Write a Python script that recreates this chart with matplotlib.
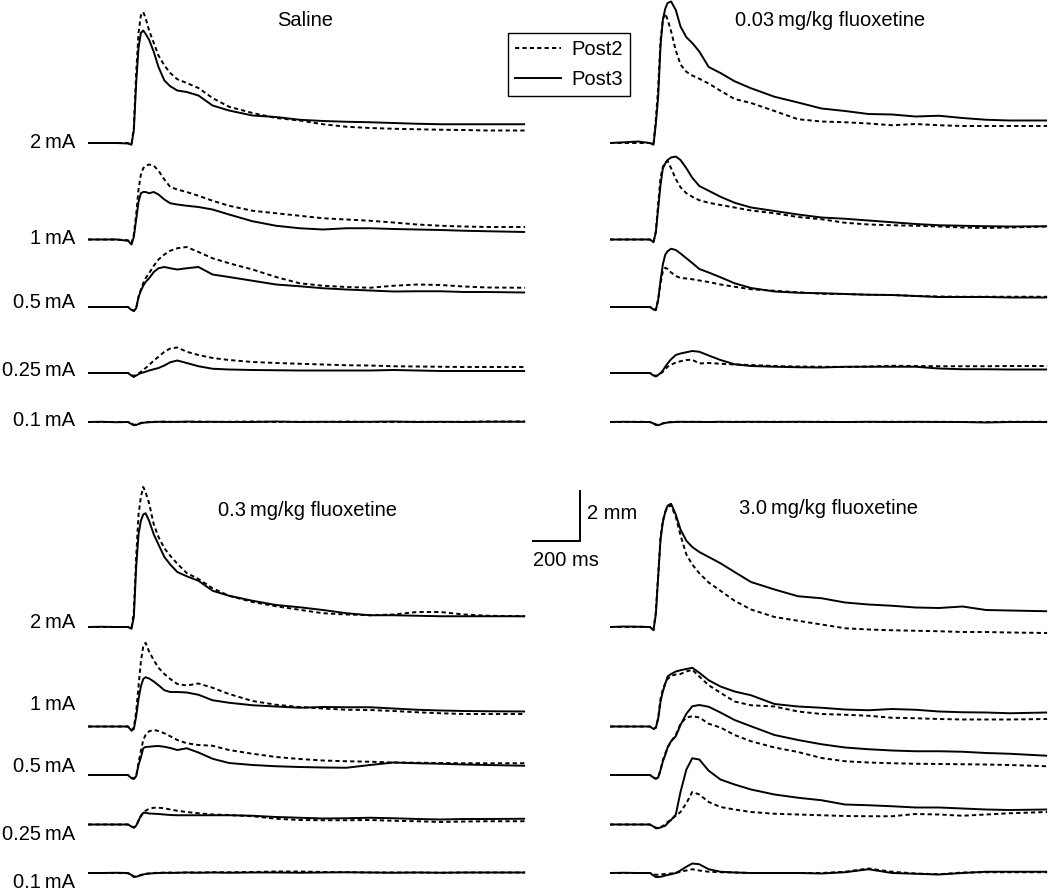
import numpy as np
import matplotlib.pyplot as plt
from matplotlib.lines import Line2D

# time after trace start (ms), shared by every trace
t_ms = [0, 60, 120, 170, 185, 195, 205, 215, 225, 235, 245, 260, 280, 300, 325, 350, 380,
        420, 470, 530, 600, 700, 800, 900, 1000, 1100, 1200, 1300, 1400, 1500, 1600, 1700, 1860]

intensities = ['2\u2009mA', '1\u2009mA', '0.5\u2009mA', '0.25\u2009mA', '0.1\u2009mA']
panel_titles = ['Saline', '0.03\u2009mg/kg fluoxetine', '0.3\u2009mg/kg fluoxetine', '3.0\u2009mg/kg fluoxetine']

# response amplitude (mm) -- Saline
sal_2_p2 = [0, 0, 0, 0, -0.05, 0.6, 2.8, 4.4, 5.1, 5.24, 5.0, 4.5, 4.0, 3.5, 3.1, 2.8, 2.55, 2.4, 2.2, 1.8, 1.45, 1.2, 1.0, 0.9, 0.75, 0.65, 0.6, 0.57, 0.55, 0.53, 0.52, 0.5, 0.5]
sal_2_p3 = [0, 0, 0, -0.02, -0.07, 0.5, 2.4, 3.8, 4.4, 4.5, 4.37, 4.13, 3.64, 3.04, 2.5, 2.27, 2.1, 2.04, 1.9, 1.5, 1.3, 1.1, 1.04, 0.93, 0.88, 0.85, 0.83, 0.8, 0.77, 0.75, 0.75, 0.75, 0.75]
sal_1_p2 = [0, 0, 0, -0.03, -0.15, 0.2, 1.0, 2.0, 2.6, 2.85, 2.95, 3.0, 2.95, 2.75, 2.4, 2.1, 2.0, 1.9, 1.75, 1.55, 1.35, 1.15, 1.05, 0.95, 0.85, 0.8, 0.75, 0.68, 0.6, 0.55, 0.52, 0.5, 0.5]
sal_1_p3 = [0, 0, 0, -0.05, -0.2, 0.1, 0.8, 1.5, 1.85, 1.9, 1.9, 1.85, 1.9, 1.8, 1.6, 1.45, 1.4, 1.35, 1.3, 1.2, 1.0, 0.73, 0.55, 0.45, 0.4, 0.45, 0.45, 0.42, 0.4, 0.38, 0.35, 0.33, 0.3]
sal_05_p2 = [0, 0, 0, 0, -0.1, -0.15, -0.05, 0.4, 0.7, 0.95, 1.15, 1.35, 1.65, 1.9, 2.1, 2.25, 2.35, 2.4, 2.2, 1.95, 1.75, 1.5, 1.2, 0.95, 0.85, 0.8, 0.77, 0.85, 0.9, 0.88, 0.82, 0.78, 0.77]
sal_05_p3 = [0, 0, 0, 0, -0.12, -0.16, -0.05, 0.4, 0.65, 0.85, 1.0, 1.15, 1.4, 1.55, 1.6, 1.55, 1.5, 1.55, 1.6, 1.3, 1.2, 1.05, 0.9, 0.83, 0.75, 0.7, 0.66, 0.62, 0.63, 0.63, 0.6, 0.6, 0.58]
sal_025_p2 = [0, 0, 0, 0, -0.08, -0.12, -0.06, -0.02, 0.05, 0.12, 0.2, 0.32, 0.5, 0.65, 0.85, 0.98, 1.02, 0.85, 0.72, 0.6, 0.52, 0.44, 0.4, 0.37, 0.34, 0.31, 0.3, 0.27, 0.26, 0.25, 0.24, 0.24, 0.24]
sal_025_p3 = [0, 0, 0, 0, -0.1, -0.16, -0.1, -0.05, 0.0, 0.02, 0.05, 0.1, 0.15, 0.2, 0.3, 0.43, 0.5, 0.4, 0.27, 0.17, 0.14, 0.12, 0.11, 0.1, 0.1, 0.1, 0.1, 0.12, 0.1, 0.08, 0.08, 0.08, 0.08]
sal_01_p2 = [0, 0, 0, 0, -0.06, -0.11, -0.1, -0.07, -0.04, -0.02, -0.01, 0, 0.01, 0, 0.02, 0, 0.01, 0, 0.02, 0, 0.01, 0.02, 0, 0.01, 0, 0.02, 0, 0, 0.01, 0, 0.01, 0.02, 0.02]
sal_01_p3 = [0, 0.01, -0.01, 0, -0.08, -0.13, -0.12, -0.08, -0.05, -0.03, -0.02, -0.01, 0, 0.01, 0, 0.01, 0, 0.02, 0, 0.01, 0, 0, 0.02, 0, 0.01, 0, 0.01, 0.02, 0, 0.01, 0, 0.01, 0.01]

# 0.03 mg/kg fluoxetine
f003_2_p2 = [0, 0, 0, 0, -0.05, 0.95, 2.2, 4.1, 4.94, 5.18, 4.94, 4.47, 3.7, 3.14, 2.85, 2.7, 2.57, 2.38, 2.09, 1.76, 1.6, 1.28, 0.95, 0.86, 0.83, 0.78, 0.71, 0.76, 0.71, 0.68, 0.68, 0.68, 0.68]
f003_2_p3 = [0, 0.03, 0.06, 0, -0.07, 0.76, 1.85, 3.9, 4.94, 5.37, 5.6, 5.66, 5.32, 4.66, 4.23, 4.0, 3.66, 3.04, 2.8, 2.47, 2.19, 1.85, 1.62, 1.38, 1.28, 1.16, 1.14, 1.06, 1.09, 1.0, 0.93, 0.9, 0.9]
f003_1_p2 = [0, 0, 0, 0, -0.1, 0.33, 1.43, 2.47, 2.9, 3.09, 3.14, 2.85, 2.42, 2.09, 1.85, 1.71, 1.57, 1.47, 1.38, 1.28, 1.16, 1.05, 0.9, 0.81, 0.67, 0.6, 0.57, 0.55, 0.52, 0.48, 0.46, 0.48, 0.52]
f003_1_p3 = [0, 0, 0, 0, -0.11, 0.28, 1.24, 2.19, 2.85, 3.04, 3.18, 3.28, 3.32, 3.18, 2.85, 2.47, 2.14, 1.95, 1.71, 1.47, 1.28, 1.14, 1.0, 0.88, 0.83, 0.76, 0.69, 0.62, 0.57, 0.55, 0.53, 0.52, 0.53]
f003_05_p2 = [0, 0, 0, 0, -0.08, -0.11, 0.29, 0.95, 1.43, 1.57, 1.52, 1.38, 1.24, 1.16, 1.14, 1.11, 1.06, 1.0, 0.9, 0.81, 0.71, 0.65, 0.59, 0.53, 0.52, 0.49, 0.48, 0.44, 0.42, 0.41, 0.41, 0.41, 0.41]
f003_05_p3 = [0, 0, 0, 0, -0.1, -0.13, 0.29, 1.05, 1.71, 2.09, 2.23, 2.33, 2.28, 2.14, 1.95, 1.76, 1.52, 1.38, 1.19, 0.95, 0.76, 0.62, 0.57, 0.55, 0.52, 0.49, 0.48, 0.44, 0.4, 0.4, 0.4, 0.38, 0.38]
f003_025_p2 = [0, 0, 0, 0, -0.08, -0.12, -0.08, -0.02, 0.05, 0.15, 0.25, 0.33, 0.42, 0.47, 0.52, 0.53, 0.38, 0.4, 0.37, 0.34, 0.32, 0.28, 0.26, 0.25, 0.24, 0.26, 0.29, 0.28, 0.27, 0.27, 0.27, 0.28, 0.28]
f003_025_p3 = [0, 0, 0, 0, -0.1, -0.14, -0.08, 0.0, 0.1, 0.25, 0.38, 0.55, 0.72, 0.78, 0.83, 0.88, 0.85, 0.7, 0.52, 0.35, 0.28, 0.25, 0.23, 0.22, 0.25, 0.25, 0.25, 0.25, 0.18, 0.15, 0.15, 0.14, 0.14]
f003_01_p2 = [0, 0, 0.01, 0, -0.05, -0.1, -0.11, -0.09, -0.05, -0.03, -0.01, 0, 0.01, 0, 0.01, 0, 0.01, 0, 0, 0.01, 0, 0.01, 0, 0.01, 0, 0, 0.01, 0, 0.01, 0, 0, 0.01, 0.01]
f003_01_p3 = [0, 0.01, 0, 0, -0.06, -0.12, -0.13, -0.1, -0.06, -0.04, -0.02, -0.01, 0, 0.01, 0, 0.01, 0, 0, 0.01, 0, 0.01, 0, 0.01, 0, 0, 0.01, 0, 0.01, 0, 0, -0.02, 0, 0]

# 0.3 mg/kg fluoxetine
f03_2_p2 = [0, 0, 0, 0, -0.05, 0.6, 2.8, 4.5, 5.2, 5.6, 5.4, 4.95, 4.1, 3.6, 3.15, 2.85, 2.53, 2.16, 1.92, 1.55, 1.25, 1.0, 0.83, 0.69, 0.55, 0.5, 0.47, 0.5, 0.6, 0.6, 0.5, 0.45, 0.43]
f03_2_p3 = [0, 0.01, 0, 0, -0.07, 0.4, 2.4, 3.7, 4.25, 4.5, 4.55, 4.25, 3.7, 3.3, 2.8, 2.5, 2.2, 2.03, 1.85, 1.45, 1.25, 1.05, 0.88, 0.79, 0.68, 0.55, 0.47, 0.47, 0.45, 0.43, 0.43, 0.43, 0.43]
f03_1_p2 = [0, 0, 0, 0, -0.14, -0.05, 0.6, 1.6, 2.6, 3.2, 3.35, 3.0, 2.65, 2.35, 2.1, 1.9, 1.7, 1.64, 1.72, 1.55, 1.3, 1.02, 0.87, 0.78, 0.72, 0.67, 0.66, 0.62, 0.57, 0.53, 0.5, 0.5, 0.5]
f03_1_p3 = [0, 0, 0, 0, -0.17, -0.1, 0.4, 1.1, 1.6, 1.9, 1.97, 1.92, 1.8, 1.65, 1.45, 1.38, 1.38, 1.36, 1.27, 1.05, 0.95, 0.85, 0.8, 0.75, 0.78, 0.77, 0.77, 0.72, 0.67, 0.64, 0.62, 0.61, 0.6]
f03_05_p2 = [0, 0, 0, 0, -0.1, -0.14, -0.05, 0.5, 0.95, 1.4, 1.6, 1.75, 1.8, 1.76, 1.67, 1.55, 1.4, 1.27, 1.2, 1.17, 1.0, 0.85, 0.72, 0.64, 0.58, 0.55, 0.53, 0.5, 0.49, 0.48, 0.47, 0.47, 0.47]
f03_05_p3 = [0, 0, 0, 0, -0.13, -0.16, -0.05, 0.4, 0.7, 1.07, 1.12, 1.13, 1.15, 1.16, 1.13, 1.08, 1.0, 1.07, 0.9, 0.65, 0.48, 0.4, 0.35, 0.32, 0.3, 0.29, 0.4, 0.5, 0.47, 0.45, 0.42, 0.4, 0.37]
f03_025_p2 = [0, 0, 0, 0, -0.07, -0.12, -0.05, 0.15, 0.33, 0.47, 0.55, 0.63, 0.67, 0.67, 0.65, 0.6, 0.55, 0.5, 0.45, 0.4, 0.38, 0.33, 0.23, 0.18, 0.17, 0.17, 0.18, 0.15, 0.13, 0.1, 0.12, 0.13, 0.13]
f03_025_p3 = [0, 0, 0, 0, -0.08, -0.13, -0.05, 0.15, 0.35, 0.47, 0.47, 0.44, 0.43, 0.42, 0.4, 0.38, 0.37, 0.37, 0.37, 0.37, 0.37, 0.35, 0.3, 0.27, 0.24, 0.25, 0.27, 0.25, 0.22, 0.2, 0.22, 0.22, 0.23]
f03_01_p2 = [0, 0, 0, -0.01, -0.07, -0.14, -0.14, -0.11, -0.08, -0.05, -0.03, -0.02, 0, 0.01, 0.01, 0.02, 0.01, 0.02, 0.02, 0.03, 0.03, 0.04, 0.06, 0.06, 0.04, 0.03, 0.02, 0.02, 0.02, 0.01, 0.02, 0.02, 0.02]
f03_01_p3 = [0, 0, 0.01, 0, -0.08, -0.16, -0.15, -0.12, -0.09, -0.06, -0.04, -0.02, -0.01, 0, 0.01, 0, 0.01, 0.02, 0.01, 0.02, 0.01, 0.02, 0.02, 0.01, 0.02, 0.03, 0.02, 0.01, 0.02, 0.01, 0.02, 0.02, 0.02]

# 3.0 mg/kg fluoxetine
f30_2_p2 = [0, 0, 0.01, 0, -0.12, 0.6, 2.1, 3.6, 4.25, 4.6, 4.8, 4.87, 4.4, 3.67, 2.9, 2.5, 2.15, 1.78, 1.45, 1.05, 0.7, 0.4, 0.25, 0.1, -0.05, -0.1, -0.13, -0.15, -0.17, -0.2, -0.2, -0.22, -0.24]
f30_2_p3 = [0, 0.02, 0.01, 0, -0.13, 0.5, 2.0, 3.5, 4.2, 4.6, 4.85, 4.93, 4.5, 3.9, 3.45, 3.2, 3.0, 2.8, 2.55, 2.2, 1.8, 1.5, 1.23, 1.15, 0.98, 0.9, 0.85, 0.78, 0.76, 0.82, 0.68, 0.66, 0.63]
f30_1_p2 = [0, 0, 0, 0, -0.1, -0.05, 0.35, 1.1, 1.5, 1.73, 1.9, 2.03, 2.08, 2.1, 2.2, 2.27, 2.0, 1.65, 1.35, 1.0, 0.85, 0.8, 0.6, 0.5, 0.47, 0.43, 0.35, 0.33, 0.3, 0.28, 0.28, 0.28, 0.3]
f30_1_p3 = [0, 0, 0, 0, -0.1, -0.05, 0.3, 1.0, 1.4, 1.7, 2.0, 2.1, 2.2, 2.25, 2.3, 2.35, 2.15, 1.85, 1.6, 1.4, 1.25, 0.9, 0.8, 0.75, 0.68, 0.65, 0.7, 0.67, 0.6, 0.57, 0.56, 0.53, 0.56]
f30_05_p2 = [0, 0, 0, 0, -0.1, -0.15, -0.1, 0.2, 0.6, 0.85, 1.1, 1.35, 1.6, 2.05, 2.3, 2.35, 2.3, 2.05, 1.9, 1.6, 1.35, 1.1, 0.92, 0.68, 0.55, 0.5, 0.47, 0.45, 0.44, 0.43, 0.42, 0.4, 0.35]
f30_05_p3 = [0, 0, 0, 0, -0.1, -0.15, -0.1, 0.2, 0.55, 0.8, 1.1, 1.35, 1.55, 2.0, 2.45, 2.75, 2.8, 2.73, 2.5, 2.2, 1.95, 1.6, 1.4, 1.23, 1.1, 1.03, 0.98, 0.95, 0.95, 0.93, 0.88, 0.85, 0.77]
f30_025_p2 = [0, 0, 0, 0, -0.08, -0.13, -0.13, -0.1, -0.06, 0.0, 0.1, 0.2, 0.35, 0.5, 0.85, 1.3, 1.2, 0.9, 0.7, 0.6, 0.5, 0.43, 0.4, 0.37, 0.34, 0.33, 0.33, 0.42, 0.4, 0.35, 0.4, 0.45, 0.5]
f30_025_p3 = [0, 0, 0, 0, -0.08, -0.15, -0.15, -0.12, -0.08, -0.05, 0.05, 0.18, 0.4, 1.3, 2.2, 2.65, 2.6, 2.15, 1.8, 1.6, 1.4, 1.2, 1.07, 0.97, 0.8, 0.77, 0.73, 0.68, 0.68, 0.64, 0.6, 0.58, 0.6]
f30_01_p2 = [0, 0, 0, 0, -0.05, -0.07, -0.07, -0.06, -0.05, -0.04, -0.03, -0.02, 0.0, 0.05, 0.1, 0.15, 0.1, 0.05, 0.03, 0.02, 0.0, 0.0, 0.0, 0.0, 0.05, 0.18, 0.05, -0.02, -0.05, 0.02, 0.03, 0.03, 0.03]
f30_01_p3 = [0, 0.01, 0, 0, -0.1, -0.16, -0.16, -0.15, -0.13, -0.1, -0.08, -0.05, 0.0, 0.1, 0.25, 0.38, 0.35, 0.15, 0.05, 0.02, 0.0, 0.0, 0.0, -0.02, 0.03, 0.15, 0.0, -0.03, -0.06, 0.0, 0.05, 0.05, 0.05]

panel_traces = [
    [(sal_2_p2, sal_2_p3), (sal_1_p2, sal_1_p3), (sal_05_p2, sal_05_p3), (sal_025_p2, sal_025_p3), (sal_01_p2, sal_01_p3)],
    [(f003_2_p2, f003_2_p3), (f003_1_p2, f003_1_p3), (f003_05_p2, f003_05_p3), (f003_025_p2, f003_025_p3), (f003_01_p2, f003_01_p3)],
    [(f03_2_p2, f03_2_p3), (f03_1_p2, f03_1_p3), (f03_05_p2, f03_05_p3), (f03_025_p2, f03_025_p3), (f03_01_p2, f03_01_p3)],
    [(f30_2_p2, f30_2_p3), (f30_1_p2, f30_1_p3), (f30_05_p2, f30_05_p3), (f30_025_p2, f30_025_p3), (f30_01_p2, f30_01_p3)],
]

# layout (figure pixels), converted to ms / mm below
W, H = 1050, 890
MS_PER_PX = 200 / 47
PX_PER_MM = 25

def X(px):
    return px * MS_PER_PX

def Y(py):
    return (H - py) / PX_PER_MM

panel_x0 = [88, 610, 88, 610]
top_base = [143, 239.5, 307, 373, 422]
bot_base = [627, 726.5, 775, 824.5, 873]
panel_base = [top_base, top_base, bot_base, bot_base]
title_pos = [(305, 21), (830, 21), (307, 510), (829, 508)]
top_label_y = [143, 239, 302, 370, 420]
bot_label_y = [622, 704, 767, 835, 882]

plt.rcParams['font.family'] = ['Liberation Sans', 'DejaVu Sans']
FS = 14.5
LW = 1.4
DASH = (0, (2.2, 1.6))

fig = plt.figure(figsize=(W / 100, H / 100), dpi=100)
ax = fig.add_axes([0, 0, 1, 1])
ax.set_xlim(0, X(W))
ax.set_ylim(0, Y(0))
ax.axis('off')

t = np.array(t_ms)
for p, traces in enumerate(panel_traces):
    x0 = X(panel_x0[p])
    for k, (post2, post3) in enumerate(traces):
        base = Y(panel_base[p][k])
        ax.plot(x0 + t, base + np.array(post2), color='black', lw=LW, ls=DASH,
                solid_joinstyle='round')
        ax.plot(x0 + t, base + np.array(post3), color='black', lw=LW,
                solid_joinstyle='round', solid_capstyle='butt')
    tx, ty = title_pos[p]
    ax.text(X(tx), Y(ty), panel_titles[p], ha='center', va='center', fontsize=FS)

for k, lab in enumerate(intensities):
    ax.text(X(75), Y(top_label_y[k]), lab, ha='right', va='center', fontsize=FS)
    ax.text(X(75), Y(bot_label_y[k]), lab, ha='right', va='center', fontsize=FS)

# scale bar: 200 ms, 2 mm
sb_x, sb_y = X(580), Y(541)
ax.plot([sb_x - 200, sb_x, sb_x], [sb_y, sb_y, sb_y + 2], color='black', lw=LW,
        solid_joinstyle='miter')
ax.text(sb_x + X(7), sb_y + 1.1, '2 mm', ha='left', va='center', fontsize=FS)
ax.text(sb_x - 100 + X(-23), Y(561), '200 ms', ha='left', va='center', fontsize=FS)

handles = [Line2D([], [], color='black', lw=LW, ls=DASH),
           Line2D([], [], color='black', lw=LW)]
leg = ax.legend(handles, ['Post2', 'Post3'], loc='upper left',
                bbox_to_anchor=(508 / W, 1 - 33 / H), bbox_transform=fig.transFigure,
                borderaxespad=0, fancybox=False, framealpha=1, edgecolor='black',
                fontsize=FS, handlelength=2.3, handletextpad=0.5, labelspacing=0.55,
                borderpad=0.35)
leg.get_frame().set_linewidth(1.0)

fig.savefig('out.png', dpi=100)
